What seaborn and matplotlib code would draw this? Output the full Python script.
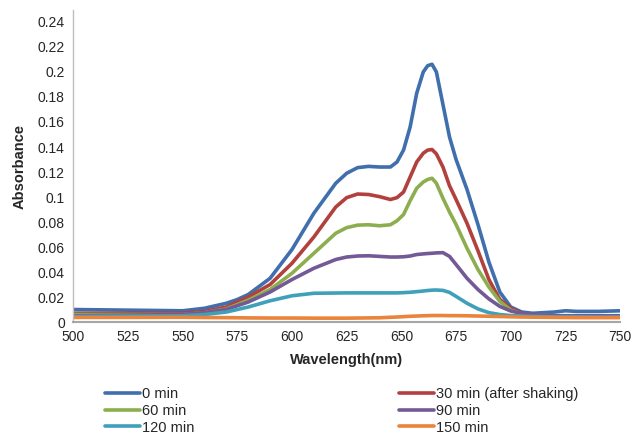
import numpy as np
import pandas as pd
import matplotlib
matplotlib.use("Agg")
import matplotlib.pyplot as plt
import seaborn as sns

sns.set_style("white")
plt.rcParams['font.family'] = ['Liberation Sans', 'DejaVu Sans']

# wavelengths (nm) and absorbance
wavelength = [500, 525, 550, 560, 570, 575, 580, 590, 600, 610, 620, 625, 630, 635,
              640, 645, 648, 651, 654, 657, 660, 662, 664, 666, 669, 672, 675, 680,
              685, 690, 695, 700, 705, 710, 720, 725, 730, 740, 750]

abs_0 = [0.0100, 0.0095, 0.0090, 0.0110, 0.0150, 0.0180, 0.0220, 0.0350, 0.0580, 0.0870,
         0.1110, 0.1190, 0.1235, 0.1245, 0.1240, 0.1240, 0.1280, 0.1376, 0.1560, 0.1830,
         0.2000, 0.2050, 0.2062, 0.2000, 0.1740, 0.1480, 0.1300, 0.1060, 0.0780, 0.0480,
         0.0240, 0.0120, 0.0080, 0.0070, 0.0080, 0.0090, 0.0085, 0.0085, 0.0090]
abs_30 = [0.0070, 0.0070, 0.0070, 0.0085, 0.0120, 0.0160, 0.0200, 0.0300, 0.0470, 0.0680,
          0.0920, 0.0995, 0.1024, 0.1020, 0.1003, 0.0980, 0.0995, 0.1040, 0.1160, 0.1280,
          0.1350, 0.1375, 0.1380, 0.1345, 0.1240, 0.1090, 0.0980, 0.0790, 0.0570, 0.0340,
          0.0180, 0.0110, 0.0070, 0.0055, 0.0050, 0.0050, 0.0050, 0.0050, 0.0050]
abs_60 = [0.0060, 0.0060, 0.0060, 0.0075, 0.0105, 0.0140, 0.0175, 0.0260, 0.0390, 0.0550,
          0.0710, 0.0755, 0.0775, 0.0778, 0.0770, 0.0778, 0.0810, 0.0860, 0.0970, 0.1070,
          0.1120, 0.1140, 0.1150, 0.1110, 0.0990, 0.0880, 0.0780, 0.0590, 0.0420, 0.0280,
          0.0165, 0.0095, 0.0065, 0.0055, 0.0050, 0.0050, 0.0050, 0.0050, 0.0050]
abs_90 = [0.0050, 0.0055, 0.0060, 0.0075, 0.0100, 0.0130, 0.0160, 0.0240, 0.0340, 0.0430,
          0.0500, 0.0520, 0.0528, 0.0530, 0.0525, 0.0520, 0.0520, 0.0522, 0.0528, 0.0540,
          0.0545, 0.0548, 0.0550, 0.0553, 0.0555, 0.0525, 0.0460, 0.0350, 0.0260, 0.0185,
          0.0125, 0.0088, 0.0070, 0.0060, 0.0050, 0.0050, 0.0050, 0.0050, 0.0050]
abs_120 = [0.0045, 0.0048, 0.0050, 0.0060, 0.0080, 0.0100, 0.0120, 0.0170, 0.0210, 0.0230,
           0.0232, 0.0233, 0.0233, 0.0233, 0.0233, 0.0233, 0.0233, 0.0235, 0.0238, 0.0243,
           0.0248, 0.0252, 0.0255, 0.0256, 0.0253, 0.0237, 0.0205, 0.0150, 0.0105, 0.0075,
           0.0060, 0.0052, 0.0048, 0.0045, 0.0042, 0.0042, 0.0042, 0.0040, 0.0040]
abs_150 = [0.0037, 0.0037, 0.0038, 0.0036, 0.0035, 0.0034, 0.0033, 0.0032, 0.0032, 0.0031,
           0.0031, 0.0031, 0.0032, 0.0033, 0.0034, 0.0038, 0.0040, 0.0043, 0.0046, 0.0048,
           0.0050, 0.0051, 0.0052, 0.0052, 0.0052, 0.0051, 0.0051, 0.0050, 0.0048, 0.0046,
           0.0044, 0.0042, 0.0040, 0.0039, 0.0037, 0.0036, 0.0035, 0.0035, 0.0035]

labels = ['0 min', '30 min (after shaking)', '60 min', '90 min', '120 min', '150 min']
series = [abs_0, abs_30, abs_60, abs_90, abs_120, abs_150]
colors = ['#3F6FAD', '#B2403D', '#8DAE4E', '#735996', '#3FA0BA', '#E9843A']

frames = []
for lab, vals in zip(labels, series):
    frames.append(pd.DataFrame({'Wavelength': wavelength, 'Absorbance': vals, 'Time': lab}))
df = pd.concat(frames, ignore_index=True)

fig = plt.figure(figsize=(6.42, 4.34), dpi=100)
ax = fig.add_axes([0.114, 0.258, 0.852, 0.719])

sns.lineplot(data=df, x='Wavelength', y='Absorbance', hue='Time', hue_order=labels,
             palette=colors, linewidth=2.6, ax=ax, legend=False,
             solid_joinstyle='round', solid_capstyle='round')

ax.set_xlim(500, 750)
ax.set_ylim(0, 0.2496)
ax.set_xticks(np.arange(500, 751, 25))
ax.set_yticks(np.arange(0, 0.241, 0.02))
ax.yaxis.set_major_formatter(matplotlib.ticker.FuncFormatter(lambda v, p: f"{round(v, 2):g}"))
ax.tick_params(axis='both', labelsize=10, length=0, pad=6)

for s in ['top', 'right']:
    ax.spines[s].set_visible(False)
ax.spines['left'].set_color('#BFBFBF')
ax.spines['bottom'].set_color('#A6A6A6')
ax.spines['left'].set_linewidth(1.0)
ax.spines['bottom'].set_linewidth(1.5)

ax.set_xlabel('Wavelength(nm)', fontsize=10.5, fontweight='bold', labelpad=6)
ax.set_ylabel('Absorbance', fontsize=10.5, fontweight='bold', labelpad=8)

# legend rows run left-to-right, matplotlib fills columns first
handles = ax.get_lines()
order = [0, 2, 4, 1, 3, 5]
fig.legend([handles[i] for i in order], [labels[i] for i in order], ncol=2,
           loc='upper left', bbox_to_anchor=(0.163, 0.109), frameon=False,
           fontsize=10.5, handlelength=2.4, handletextpad=0.15, columnspacing=14.05,
           labelspacing=0.2, borderpad=0, borderaxespad=0)

fig.savefig('out.png', dpi=100)
